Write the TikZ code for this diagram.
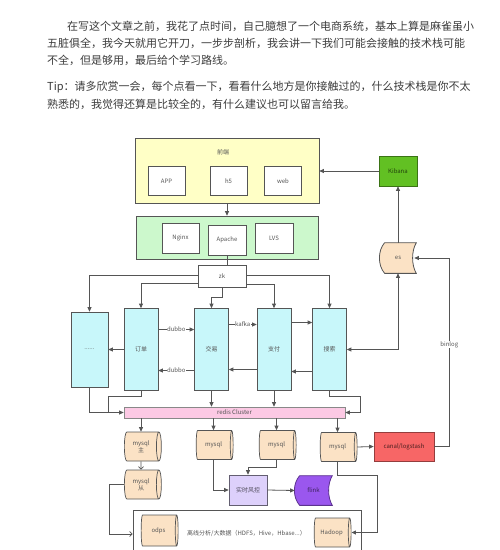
\documentclass[tikz,border=0pt]{standalone}
\usepackage{fontspec}
\setmainfont{Noto Sans CJK SC}
\usetikzlibrary{positioning, arrows.meta, shapes.geometric}
\usepackage{xcolor}
\pgfdeclarelayer{bg}
\pgfsetlayers{bg,main}

\definecolor{linegray}{HTML}{555555}
\definecolor{textgray}{HTML}{555555}
\definecolor{paragray}{HTML}{3C3C3C}
\definecolor{feyellow}{HTML}{FFFFC6}
\definecolor{gwgreen}{HTML}{CCF8CC}
\definecolor{kibgreen}{HTML}{62C023}
\definecolor{dbpeach}{HTML}{FBE2C5}
\definecolor{svccyan}{HTML}{C8F7FA}
\definecolor{redispink}{HTML}{FCC9E4}
\definecolor{canalred}{HTML}{F76666}
\definecolor{riskpurple}{HTML}{DDD0FB}
\definecolor{flinkpurple}{HTML}{9A57EE}

% stored-data outline behind a named node: name, fill, border
\newcommand{\storedshape}[3]{%
  \begin{pgfonlayer}{bg}
  \draw[line width=0.8pt, draw=#3, fill=#2] ([xshift=5pt]#1.north west) -- (#1.north east)
    .. controls ([xshift=-5pt,yshift=-8pt]#1.north east) and ([xshift=-5pt,yshift=8pt]#1.south east) .. (#1.south east)
    -- ([xshift=5pt]#1.south west)
    .. controls ([xshift=-2pt,yshift=8pt]#1.south west) and ([xshift=-2pt,yshift=-8pt]#1.north west) .. ([xshift=5pt]#1.north west) -- cycle;
  \end{pgfonlayer}}

\begin{document}
\begin{tikzpicture}[x=1pt, y=-1pt]
        \tikzstyle{para} = [anchor=west, inner sep=0pt, text=paragray, font=\fontsize{11}{13}\selectfont]
        \tikzstyle{box} = [rectangle, draw=linegray, line width=0.7pt, inner sep=1pt,
          text=textgray, font=\fontsize{6}{7}\selectfont, align=center]
        \tikzstyle{inbox} = [box, fill=white, minimum width=37pt, minimum height=29pt]
        \tikzstyle{svc} = [box, fill=svccyan, minimum width=34pt, minimum height=82pt]
        \tikzstyle{db} = [cylinder, draw=linegray, line width=0.7pt, fill=dbpeach, aspect=0.35,
          minimum width=29pt, minimum height=37pt, inner sep=1pt, text=textgray,
          font=\fontsize{6}{7}\selectfont, align=center]
        \tikzstyle{ln} = [draw=linegray, line width=0.8pt]
        \tikzstyle{arr} = [ln, -{Triangle[length=4.5pt,width=4pt]}]
        \tikzstyle{openarr} = [ln, -{Straight Barb[length=2.5pt,width=5pt]}]
        \tikzstyle{tag} = [fill=white, inner sep=0.5pt, text=textgray, font=\fontsize{6}{7}\selectfont]

        \useasboundingbox (0,0) rectangle (500,550);
        \begin{pgfonlayer}{bg}
          \fill[white] (0,0) rectangle (500,550);
        \end{pgfonlayer}
        \clip (0,0) rectangle (500,550);

        % intro text
        \node[para] (l1) at (67,26) {在写这个文章之前，我花了点时间，自己臆想了一个电商系统，基本上算是麻雀虽小};
        \node[para] (l2) at (47,43.3) {五脏俱全，我今天就用它开刀，一步步剖析，我会讲一下我们可能会接触的技术栈可能};
        \node[para] (l3) at (47,60.7) {不全，但是够用，最后给个学习路线。};
        \node[para] (l4) at (47,87.3) {Tip：请多欣赏一会，每个点看一下，看看什么地方是你接触过的，什么技术栈是你不太};
        \node[para] (l5) at (47,104.7) {熟悉的，我觉得还算是比较全的，有什么建议也可以留言给我。};

        % front end and gateway
        \node[box, fill=feyellow, minimum width=184pt, minimum height=65pt] (qianduan) at (227,170.5) {};
        \node[text=textgray, font=\fontsize{6}{7}\selectfont] (qdlabel) at (223,152) {前端};
        \foreach \nm/\x/\txt in {app/166.5/APP, hfive/228.5/h5, web/283/web}
          \node[inbox] (\nm) at (\x,181) {\txt};

        \node[box, fill=gwgreen, minimum width=182pt, minimum height=43pt] (gateway) at (227,237.5) {};
        \node[inbox, minimum height=30pt] (nginx) at (180.5,238) {Nginx};
        \node[inbox, minimum height=30pt, minimum width=38pt] (apache) at (227,240) {Apache};
        \node[inbox, minimum height=30pt, minimum width=38pt] (lvs) at (274,238) {LVS};

        \node[box, fill=kibgreen, draw=kibgreen!60!black, text=kibgreen!35!black,
          minimum width=38pt, minimum height=30pt] (kibana) at (398,171) {Kibana};
        \node[box, draw=none, minimum width=36pt, minimum height=30pt] (es) at (398,258) {es};
        \storedshape{es}{dbpeach}{linegray}

        \node[box, fill=white, minimum width=48pt, minimum height=22pt] (zk) at (222,276) {zk};

        % services
        \node[svc, minimum height=75pt, minimum width=37pt] (dots) at (89.5,349.5) {......};
        \foreach \nm/\x/\txt in {dingdan/141/订单, jiaoyi/211.5/交易, zhifu/274/支付, sousuo/329.5/搜索}
          \node[svc] (\nm) at (\x,349.5) {\txt};

        \node[box, draw=linegray!70, fill=redispink, minimum width=221pt, minimum height=11pt] (redis) at (234.5,412.5) {redis Cluster};

        % storage
        \foreach \nm/\x/\y/\txt in {mysqlA/141/446.5/{mysql\\主}, mysqlB/141/484.5/{mysql\\从},
            mysqlC/213.5/445/mysql, mysqlD/276.5/445/mysql, mysqlE/337.5/447/mysql}
          \node[db] (\nm) at (\x,\y) {\txt};

        \node[box, fill=canalred, draw=canalred!60!black, text=canalred!30!black,
          minimum width=60pt, minimum height=29pt] (canal) at (404,446.5) {canal/logstash};
        \node[box, fill=riskpurple, draw=riskpurple!45!black, text=riskpurple!35!black,
          minimum width=38pt, minimum height=30pt] (fengkong) at (248,490) {实时风控};
        \node[box, draw=none, text=flinkpurple!40!black, minimum width=37pt, minimum height=29pt] (flink) at (313.5,490.5) {flink};
        \storedshape{flink}{flinkpurple}{flinkpurple!60!black}

        \node[box, fill=white, minimum width=228pt, minimum height=48pt] (offline) at (247,534) {};
        \node[db, minimum width=31pt] (odps) at (158.5,530.5) {odps};
        \node[db] (hadoop) at (331.5,532.5) {Hadoop};
        \node[text=textgray, font=\fontsize{6}{7}\selectfont] (offtxt) at (246.5,533) {离线分析/大数据（HDFS，Hive，Hbase...）};

        % connectors
        \draw[arr] (qianduan.south) -- (gateway.north);
        \draw[arr] (kibana.west) -- (kibana.west -| qianduan.east);
        \draw[arr] (es.north) -- (kibana.south);
        \draw[ln] (apache.south) -- (apache.south |- zk.north);

        \draw[arr] ([yshift=1pt]zk.west) -| (dots.north);
        \draw[arr] ([yshift=-7pt]zk.west) -| (dingdan.north);
        \draw[arr] (zk.south) -- ++(0,10) -| (jiaoyi.north);
        \draw[arr] ([yshift=-8pt]zk.east) -| (zhifu.north);
        \draw[arr] ([yshift=1pt]zk.east) -| (sousuo.north);

        \draw[arr] (dingdan.west) -- (dots.east);
        \draw[arr] ([yshift=20pt]dingdan.east) -- node[tag] {dubbo} ([yshift=20pt]jiaoyi.west);
        \draw[arr] ([yshift=-21pt]jiaoyi.west) -- node[tag] {dubbo} ([yshift=-21pt]dingdan.east);
        \draw[arr] ([yshift=25pt]jiaoyi.east) -- node[tag] {kafka} ([yshift=25pt]zhifu.west);
        \draw[arr] ([yshift=-20pt]zhifu.west) -- ([yshift=-20pt]jiaoyi.east);
        \draw[arr] ([yshift=27pt]zhifu.east) -- ([yshift=27pt]sousuo.west);
        \draw[arr] ([yshift=-22pt]sousuo.west) -- ([yshift=-22pt]zhifu.east);
        \draw[ln, {Triangle[length=4.5pt,width=4pt]}-{Triangle[length=4.5pt,width=4pt]}] (sousuo.east) -| (es.south);
        \draw[arr] (canal.east) -- ++(15,0) |- node[tag, pos=0.27] {binlog} ([xshift=-2pt]es.east);

        \draw[arr] (dots.south) |- (redis.west);
        \draw[ln] (dingdan.south) -- ++(0,6) -| ([xshift=-15pt]redis.west);
        \draw[arr] (jiaoyi.south) -- (jiaoyi.south |- redis.north);
        \draw[arr] (zhifu.south) -- (zhifu.south |- redis.north);
        \draw[arr] (sousuo.south) -- ++(0,6) -| ([xshift=15pt]redis.east) -- (redis.east);

        \foreach \nm in {mysqlA, mysqlC, mysqlD, mysqlE}
          \draw[arr] (\nm.north |- redis.south) -- (\nm.north);
        \draw[openarr] (mysqlA.south) -- (mysqlB.north);
        \draw[arr] (mysqlE.east) -- (canal.west);
        \draw[arr] (mysqlC.south) |- (fengkong.west);
        \draw[arr] (mysqlD.south) -- ++(0,8) -| (fengkong.north);
        \draw[arr] (fengkong.east) -- (flink.west);
        \draw[openarr] (mysqlB.west) -- ++(-15,0) |- (offline.west);
        \draw[arr] (mysqlE.south) -- ++(0,14) -| ([xshift=26pt]hadoop.east) -- (hadoop.east);
      \end{tikzpicture}
\end{document}
